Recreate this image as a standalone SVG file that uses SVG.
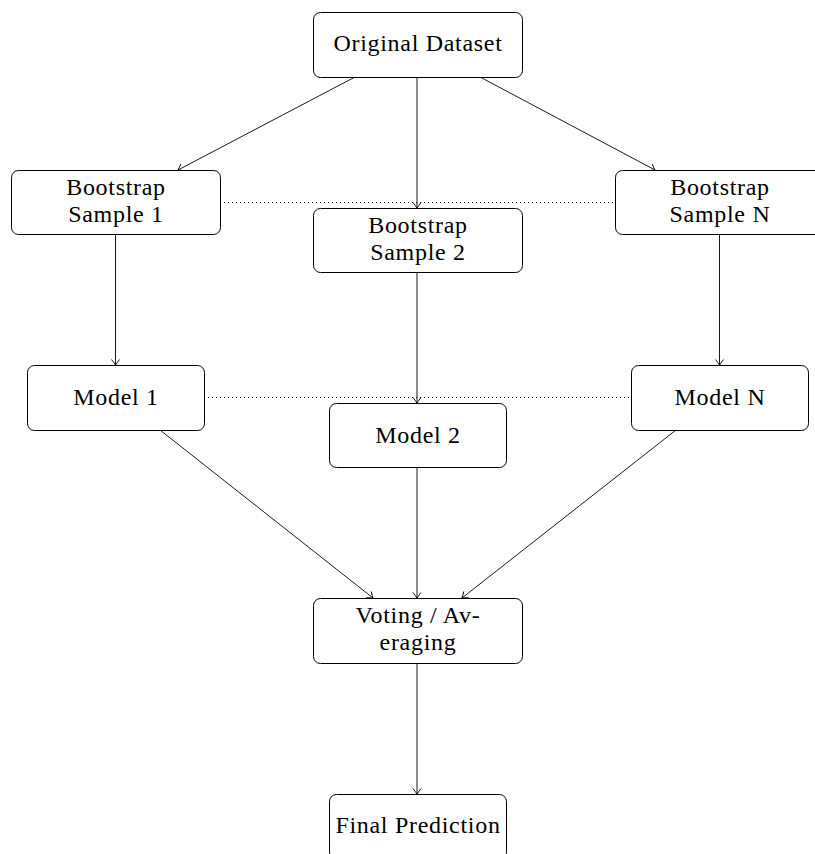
<svg xmlns="http://www.w3.org/2000/svg" width="815" height="854" viewBox="0 0 815 854">
<style>
.box{fill:#fff;stroke:#000;stroke-width:1}
text{font-family:"Liberation Serif","DejaVu Serif",serif;font-size:24px;letter-spacing:0.7px;fill:#000;text-anchor:middle}
.edge{stroke:#000;stroke-width:0.9;fill:none;marker-end:url(#arr)}
.dot{stroke:#000;stroke-width:0.9;stroke-dasharray:1 3;fill:none}
</style>
<defs>
<marker id="arr" markerUnits="userSpaceOnUse" markerWidth="14" markerHeight="14" viewBox="-8 -7 10 14" refX="0" refY="0" orient="auto">
<path d="M -5.5 -4 Q -1.5 -1 0 0 Q -1.5 1 -5.5 4" fill="none" stroke="#000" stroke-width="0.9"/>
</marker>
</defs>
<g id="connectors">
<line class="dot" x1="220" y1="202.5" x2="615" y2="202.5"/>
<line class="dot" x1="204" y1="397.5" x2="631" y2="397.5"/>
<line class="edge" x1="355" y1="77" x2="178" y2="170"/>
<line class="edge" x1="417" y1="77" x2="417" y2="208"/>
<line class="edge" x1="480" y1="77" x2="655" y2="170"/>
<line class="edge" x1="115.5" y1="234" x2="115.5" y2="365"/>
<line class="edge" x1="417" y1="272" x2="417" y2="403"/>
<line class="edge" x1="719.5" y1="234" x2="719.5" y2="365"/>
<line class="edge" x1="160" y1="430" x2="373" y2="598"/>
<line class="edge" x1="417" y1="467" x2="417" y2="598"/>
<line class="edge" x1="676" y1="430" x2="462" y2="598"/>
<line class="edge" x1="417" y1="663" x2="417" y2="794"/>
</g>
<g id="original">
<rect class="box" x="313.5" y="12.5" width="209" height="65" rx="7"/>
<text x="418" y="51">Original Dataset</text>
</g>
<g id="bs1">
<rect class="box" x="11.5" y="170.5" width="209" height="64" rx="7"/>
<text x="116" y="195">Bootstrap</text>
<text x="116" y="222">Sample 1</text>
</g>
<g id="bs2">
<rect class="box" x="313.5" y="208.5" width="209" height="64" rx="7"/>
<text x="418" y="233">Bootstrap</text>
<text x="418" y="260">Sample 2</text>
</g>
<g id="bsn">
<rect class="box" x="615.5" y="170.5" width="209" height="64" rx="7"/>
<text x="720" y="195">Bootstrap</text>
<text x="720" y="222">Sample N</text>
</g>
<g id="m1">
<rect class="box" x="27.5" y="365.5" width="177" height="65" rx="7"/>
<text x="116" y="405">Model 1</text>
</g>
<g id="m2">
<rect class="box" x="329.5" y="403.5" width="177" height="64" rx="7"/>
<text x="418" y="443">Model 2</text>
</g>
<g id="mn">
<rect class="box" x="631.5" y="365.5" width="177" height="65" rx="7"/>
<text x="720" y="405">Model N</text>
</g>
<g id="vote">
<rect class="box" x="313.5" y="598.5" width="209" height="65" rx="7"/>
<text x="418" y="623">Voting / Av-</text>
<text x="418" y="650">eraging</text>
</g>
<g id="final">
<rect class="box" x="329.5" y="794.5" width="177" height="65" rx="7"/>
<text x="418" y="833">Final Prediction</text>
</g>
</svg>
